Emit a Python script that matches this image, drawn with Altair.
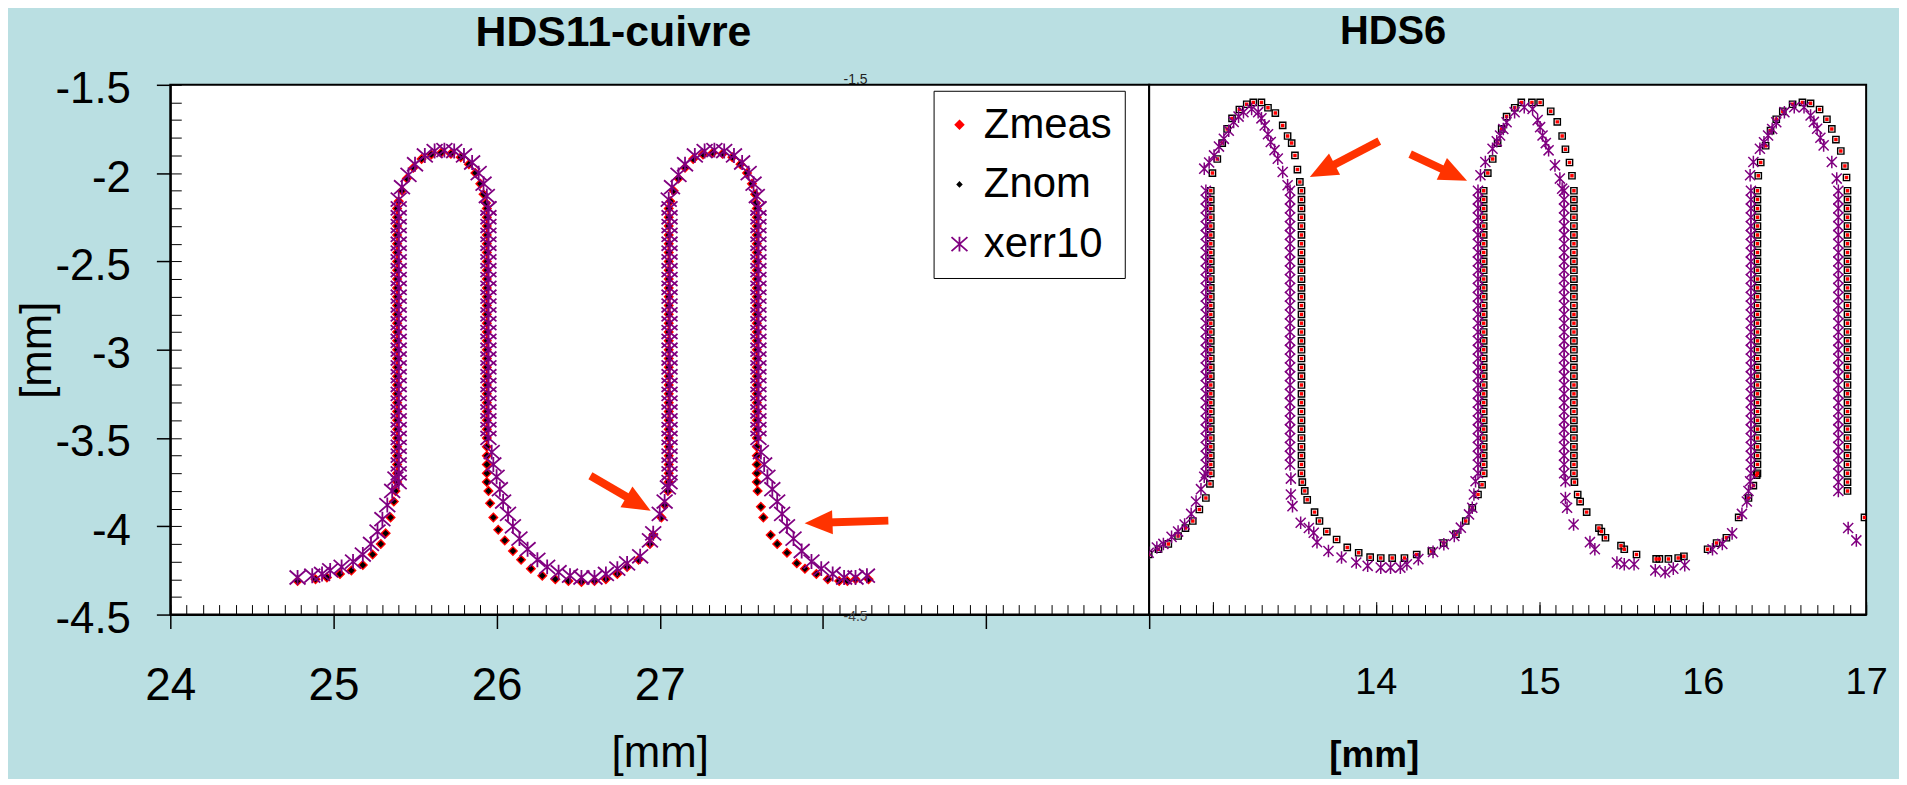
import altair as alt
import pandas as pd

FONT = "Liberation Sans"
BG = "#BADFE2"
ARROW_COLOR = "#FF3300"
SERIES = ["Zmeas", "Znom", "xerr10"]
SERIES_COLORS = ["#FF0000", "#000000", "#800080"]
# marker outlines (symbol size 100 -> 1 path unit = 5 px)
SHAPE_ZMEAS = "M0,-0.8L0.8,0L0,0.8L-0.8,0Z"
SHAPE_ZNOM = "M0,-0.4L0.4,0L0,0.4L-0.4,0Z"
SHAPE_XERR = "M-1.6,-1.4L1.6,1.4M-1.6,1.4L1.6,-1.4M0,-1.5L0,1.5"
ASTERISK = "M-0.8,-0.8L0.8,0.8M-0.8,0.8L0.8,-0.8M0,-1L0,1"
ARROW_HEAD = "M0,0L-1,-0.43L-1,0.43Z"

# ---------------- axis ticks / labels ----------------
LEFT_X_TICKS = [24, 25, 26, 27, 28, 29, 30]
Y_TICKS = [-4.5, -4.0, -3.5, -3.0, -2.5, -2.0, -1.5]
RIGHT_X_TICKS = [13, 14, 15, 16, 17]
RIGHT_X_LABELS = [14, 15, 16, 17]
LEFT_X_MINOR = [round(24 + 0.1 * i, 2) for i in range(61)]
Y_MINOR = [round(-4.5 + 0.1 * i, 2) for i in range(31)]
RIGHT_X_MINOR = [round(12.7 + 0.1 * i, 2) for i in range(44)]
# small leftover labels of the hidden HDS6 y axis
GHOST_X = [28.2]
GHOST_TOP_Y = [-1.5]
GHOST_TOP_TEXT = ["-1.5"]
GHOST_BOTTOM_Y = [-4.5]
GHOST_BOTTOM_TEXT = ["-4.5"]

# ---------------- vertical runs of points (y, mm) ----------------
L_RUN = [-3.75, -3.70, -3.65, -3.60, -3.55, -3.50, -3.45, -3.40, -3.35, -3.30, -3.25, -3.20,
         -3.15, -3.10, -3.05, -3.00, -2.95, -2.90, -2.85, -2.80, -2.75, -2.70, -2.65, -2.60,
         -2.55, -2.50, -2.45, -2.40, -2.35, -2.30, -2.25, -2.20]
L_RUN_SHORT = [-3.50, -3.45, -3.40, -3.35, -3.30, -3.25, -3.20, -3.15, -3.10, -3.05, -3.00,
               -2.95, -2.90, -2.85, -2.80, -2.75, -2.70, -2.65, -2.60, -2.55, -2.50, -2.45,
               -2.40, -2.35, -2.30, -2.25, -2.20]
R_RUN = [-3.70, -3.65, -3.60, -3.55, -3.50, -3.45, -3.40, -3.35, -3.30, -3.25, -3.20, -3.15,
         -3.10, -3.05, -3.00, -2.95, -2.90, -2.85, -2.80, -2.75, -2.70, -2.65, -2.60, -2.55,
         -2.50, -2.45, -2.40, -2.35, -2.30, -2.25, -2.20, -2.15, -2.10]
R_RUN_LONG = R_RUN + [-3.75, -3.80]

# ---------------- HDS11-cuivre : Zmeas (Znom lies on the same points) ----------------
L_SIDE_X = [25.39, 25.94, 27.055, 27.595]
L_TAIL1_X = [24.78, 24.89, 24.96, 25.04, 25.11, 25.18, 25.24, 25.29, 25.32, 25.35, 25.37, 25.38]
L_TAIL1_Y = [-4.31, -4.30, -4.29, -4.27, -4.25, -4.22, -4.16, -4.10, -4.04, -3.95, -3.86, -3.80]
L_ARC1_X = [25.40, 25.42, 25.45, 25.49, 25.54, 25.60, 25.66, 25.72, 25.78, 25.83, 25.87, 25.90, 25.92, 25.935]
L_ARC_Y = [-2.16, -2.10, -2.03, -1.97, -1.92, -1.895, -1.885, -1.89, -1.91, -1.95, -2.00, -2.06, -2.12, -2.17]
L_VALLEY_X = [25.95, 25.96, 25.98, 26.01, 26.05, 26.10, 26.15, 26.21, 26.28, 26.36, 26.44, 26.52,
              26.60, 26.67, 26.74, 26.80, 26.87, 26.94, 26.96, 27.01, 27.03, 27.05]
L_VALLEY_Y = [-3.80, -3.87, -3.95, -4.02, -4.08, -4.14, -4.19, -4.24, -4.28, -4.30, -4.31, -4.315,
              -4.31, -4.30, -4.27, -4.23, -4.19, -4.10, -4.05, -3.95, -3.88, -3.80]
L_ARC2_X = [27.065, 27.085, 27.115, 27.155, 27.205, 27.265, 27.325, 27.385, 27.445, 27.495, 27.535, 27.565, 27.585, 27.59]
L_TAIL2_X = [27.60, 27.62, 27.635, 27.68, 27.72, 27.78, 27.84, 27.89, 27.96, 28.03, 28.10, 28.15, 28.20, 28.28]
L_TAIL2_Y = [-3.80, -3.89, -3.95, -4.05, -4.10, -4.15, -4.21, -4.24, -4.27, -4.30, -4.31, -4.31, -4.30, -4.30]

# ---------------- HDS11-cuivre : xerr10 ----------------
LE_SIDE_X = [25.40, 25.95, 27.06, 27.605]
LE_TAIL1_X = [24.78, 24.87, 24.93, 24.98, 25.05, 25.12, 25.18, 25.23, 25.27, 25.30, 25.33, 25.36, 25.38]
LE_TAIL1_Y = [-4.29, -4.28, -4.27, -4.25, -4.23, -4.20, -4.16, -4.10, -4.03, -3.96, -3.88, -3.80, -3.73]
LE_ARC1_X = [25.40, 25.42, 25.46, 25.50, 25.56, 25.62, 25.68, 25.74, 25.80, 25.85, 25.89, 25.92, 25.94, 25.95]
LE_ARC_Y = [-2.15, -2.08, -2.01, -1.95, -1.90, -1.875, -1.87, -1.875, -1.90, -1.94, -2.00, -2.06, -2.13, -2.20]
LE_VALLEY_X = [25.97, 25.98, 26.00, 26.02, 26.04, 26.07, 26.10, 26.14, 26.19, 26.25, 26.31, 26.38,
               26.45, 26.52, 26.60, 26.67, 26.74, 26.80, 26.88, 26.94, 26.96, 27.00, 27.03, 27.05]
LE_VALLEY_Y = [-3.58, -3.65, -3.72, -3.79, -3.86, -3.93, -4.00, -4.07, -4.13, -4.19, -4.23, -4.26,
               -4.28, -4.29, -4.29, -4.27, -4.24, -4.21, -4.17, -4.08, -4.04, -3.93, -3.86, -3.78]
LE_ARC2_X = [27.055, 27.075, 27.115, 27.155, 27.215, 27.275, 27.335, 27.395, 27.455, 27.505, 27.545, 27.575, 27.595, 27.605]
LE_TAIL2_X = [27.62, 27.64, 27.66, 27.69, 27.72, 27.75, 27.78, 27.82, 27.87, 27.93, 27.99, 28.06, 28.13, 28.20, 28.27]
LE_TAIL2_Y = [-3.58, -3.65, -3.72, -3.79, -3.86, -3.93, -4.00, -4.07, -4.14, -4.20, -4.24, -4.27, -4.29, -4.29, -4.28]

# ---------------- HDS6 : Zmeas (Znom lies on the same points) ----------------
R_SIDE_X = [12.99, 13.545, 14.66, 15.212, 16.335, 16.886]
R_START_X = [12.61, 12.67, 12.73, 12.79, 12.835, 12.88, 12.92, 12.96, 12.985]
R_START_Y = [-4.16, -4.13, -4.10, -4.055, -4.01, -3.97, -3.905, -3.84, -3.76]
R_ARC_A_X = [13.00, 13.03, 13.06, 13.09, 13.12, 13.165, 13.21, 13.25, 13.30, 13.34, 13.385, 13.43, 13.46, 13.485, 13.505, 13.52, 13.535]
R_ARC_A_Y = [-2.00, -1.92, -1.83, -1.75, -1.69, -1.64, -1.61, -1.60, -1.60, -1.63, -1.66, -1.73, -1.79, -1.83, -1.90, -1.98, -2.05]
R_VAL_AB_X = [13.55, 13.565, 13.58, 13.625, 13.655, 13.70, 13.76, 13.825, 13.895, 13.965, 14.03,
              14.10, 14.175, 14.25, 14.34, 14.415, 14.49, 14.55, 14.59, 14.625, 14.65]
R_VAL_AB_Y = [-3.75, -3.80, -3.85, -3.92, -3.97, -4.03, -4.075, -4.12, -4.15, -4.175, -4.18,
              -4.18, -4.18, -4.16, -4.14, -4.095, -4.045, -3.97, -3.895, -3.82, -3.765]
R_ARC_B_X = [14.685, 14.715, 14.745, 14.77, 14.80, 14.85, 14.89, 14.955, 15.005, 15.07, 15.11, 15.14, 15.16, 15.185, 15.20]
R_ARC_B_Y = [-2.00, -1.92, -1.83, -1.75, -1.68, -1.63, -1.60, -1.60, -1.60, -1.65, -1.71, -1.79, -1.865, -1.94, -2.015]
R_VAL_BC_X = [15.215, 15.235, 15.25, 15.29, 15.365, 15.38, 15.405, 15.50, 15.52, 15.595, 15.715,
              15.735, 15.79, 15.85, 15.885, 16.03, 16.085, 16.145, 16.22, 16.28, 16.31, 16.33]
R_VAL_BC_Y = [-3.75, -3.82, -3.86, -3.92, -4.01, -4.03, -4.065, -4.11, -4.13, -4.16, -4.185,
              -4.185, -4.185, -4.18, -4.17, -4.13, -4.095, -4.065, -3.95, -3.84, -3.77, -3.71]
R_ARC_C_X = [16.34, 16.355, 16.385, 16.415, 16.45, 16.49, 16.55, 16.61, 16.66, 16.715, 16.76, 16.79, 16.815, 16.845, 16.87, 16.88]
R_ARC_C_Y = [-2.015, -1.94, -1.845, -1.76, -1.695, -1.65, -1.61, -1.60, -1.605, -1.64, -1.695, -1.75, -1.81, -1.875, -1.96, -2.025]
R_END_X = [16.99]
R_END_Y = [-3.95]

# ---------------- HDS6 : xerr10 ----------------
RE_SIDE_X = [12.96, 13.475, 14.625, 15.152, 16.295, 16.83]
RE_START_X = [12.61, 12.66, 12.70, 12.75, 12.79, 12.83, 12.87, 12.90, 12.93, 12.95]
RE_START_Y = [-4.15, -4.12, -4.10, -4.06, -4.03, -3.99, -3.93, -3.86, -3.79, -3.72]
RE_ARC_A_X = [12.95, 12.98, 13.01, 13.04, 13.07, 13.10, 13.13, 13.16, 13.19, 13.24, 13.28, 13.30,
              13.32, 13.34, 13.357, 13.38, 13.40, 13.43, 13.46]
RE_ARC_A_Y = [-1.975, -1.94, -1.90, -1.85, -1.806, -1.76, -1.71, -1.68, -1.655, -1.637, -1.655, -1.69,
              -1.73, -1.78, -1.824, -1.87, -1.918, -1.994, -2.069]
RE_VAL_AB_X = [13.48, 13.48, 13.49, 13.54, 13.59, 13.62, 13.64, 13.71, 13.79, 13.88, 13.95, 14.03,
               14.09, 14.15, 14.19, 14.26, 14.35, 14.416, 14.48, 14.52, 14.57, 14.59, 14.60, 14.61]
RE_VAL_AB_Y = [-3.73, -3.82, -3.886, -3.98, -4.01, -4.037, -4.09, -4.14, -4.177, -4.205, -4.224, -4.234,
               -4.234, -4.234, -4.215, -4.186, -4.145, -4.102, -4.055, -4.008, -3.933, -3.895, -3.82, -3.745]
RE_ARC_B_X = [14.64, 14.67, 14.714, 14.74, 14.76, 14.78, 14.80, 14.849, 14.908, 14.959, 14.99, 15.005,
              15.02, 15.04, 15.057, 15.096, 15.126, 15.14]
RE_ARC_B_Y = [-2.012, -1.937, -1.862, -1.82, -1.787, -1.75, -1.712, -1.655, -1.627, -1.637, -1.70, -1.74,
              -1.787, -1.83, -1.871, -1.956, -2.031, -2.088]
RE_VAL_BC_X = [15.16, 15.16, 15.17, 15.21, 15.31, 15.34, 15.475, 15.52, 15.58, 15.71, 15.77, 15.82,
               15.89, 16.06, 16.12, 16.18, 16.24, 16.27, 16.28, 16.29]
RE_VAL_BC_Y = [-3.745, -3.84, -3.895, -3.99, -4.09, -4.13, -4.205, -4.215, -4.215, -4.25, -4.26, -4.24,
               -4.22, -4.13, -4.10, -4.04, -3.93, -3.86, -3.80, -3.745]
RE_ARC_C_X = [16.29, 16.31, 16.35, 16.375, 16.40, 16.425, 16.45, 16.50, 16.56, 16.62, 16.66, 16.68,
              16.70, 16.72, 16.74, 16.79, 16.82]
RE_ARC_C_Y = [-2.012, -1.937, -1.862, -1.825, -1.787, -1.75, -1.712, -1.655, -1.627, -1.627, -1.674, -1.71,
              -1.749, -1.80, -1.843, -1.937, -2.031]
RE_END_X = [16.89, 16.94]
RE_END_Y = [-4.01, -4.08]

# ---------------- arrows (tail, neck, tip in mm; direction angle in degrees) ----------------
ARROW_L_X = [26.575, 28.401]
ARROW_L_Y = [-3.714, -3.968]
ARROW_L_NX = [26.828, 28.023]
ARROW_L_NY = [-3.850, -3.979]
ARROW_L_TX = [26.944, 27.888]
ARROW_L_TY = [-3.912, -3.983]
ARROW_L_ANGLE = [30, 178]
ARROW_R_X = [14.021, 14.21]
ARROW_R_Y = [-1.819, -1.892]
ARROW_R_NX = [13.718, 14.437]
ARROW_R_NY = [-1.965, -1.991]
ARROW_R_TX = [13.596, 14.558]
ARROW_R_TY = [-2.022, -2.044]
ARROW_R_ANGLE = [152.5, 25.3]


# ---------------- tables ----------------
def path(pieces):
    xs, ys = [], []
    for px, py in pieces:
        if not isinstance(px, list):
            px = [px] * len(py)
        xs += px
        ys += py
    return xs, ys


lm_x, lm_y = path([(L_TAIL1_X, L_TAIL1_Y), (L_SIDE_X[0], L_RUN), (L_ARC1_X, L_ARC_Y),
                   (L_SIDE_X[1], L_RUN), (L_VALLEY_X, L_VALLEY_Y), (L_SIDE_X[2], L_RUN),
                   (L_ARC2_X, L_ARC_Y), (L_SIDE_X[3], L_RUN), (L_TAIL2_X, L_TAIL2_Y)])
le_x, le_y = path([(LE_TAIL1_X, LE_TAIL1_Y), (LE_SIDE_X[0], L_RUN), (LE_ARC1_X, LE_ARC_Y),
                   (LE_SIDE_X[1], L_RUN_SHORT), (LE_VALLEY_X, LE_VALLEY_Y), (LE_SIDE_X[2], L_RUN),
                   (LE_ARC2_X, LE_ARC_Y), (LE_SIDE_X[3], L_RUN_SHORT), (LE_TAIL2_X, LE_TAIL2_Y)])
rm_x, rm_y = path([(R_START_X, R_START_Y), (R_SIDE_X[0], R_RUN), (R_ARC_A_X, R_ARC_A_Y),
                   (R_SIDE_X[1], R_RUN), (R_VAL_AB_X, R_VAL_AB_Y), (R_SIDE_X[2], R_RUN),
                   (R_ARC_B_X, R_ARC_B_Y), (R_SIDE_X[3], R_RUN), (R_VAL_BC_X, R_VAL_BC_Y),
                   (R_SIDE_X[4], R_RUN), (R_ARC_C_X, R_ARC_C_Y), (R_SIDE_X[5], R_RUN_LONG),
                   (R_END_X, R_END_Y)])
re_x, re_y = path([(RE_START_X, RE_START_Y), (RE_SIDE_X[0], R_RUN), (RE_ARC_A_X, RE_ARC_A_Y),
                   (RE_SIDE_X[1], R_RUN[1:]), (RE_VAL_AB_X, RE_VAL_AB_Y), (RE_SIDE_X[2], R_RUN),
                   (RE_ARC_B_X, RE_ARC_B_Y), (RE_SIDE_X[3], R_RUN), (RE_VAL_BC_X, RE_VAL_BC_Y),
                   (RE_SIDE_X[4], R_RUN), (RE_ARC_C_X, RE_ARC_C_Y), (RE_SIDE_X[5], R_RUN_LONG),
                   (RE_END_X, RE_END_Y)])

left_df = pd.DataFrame({
    "x": lm_x + lm_x + le_x,
    "y": lm_y + lm_y + le_y,
    "series": ["Zmeas"] * len(lm_x) + ["Znom"] * len(lm_x) + ["xerr10"] * len(le_x),
})
right_meas = pd.DataFrame({"x": rm_x, "y": rm_y})
right_err = pd.DataFrame({"x": re_x, "y": re_y})
arrows_left = pd.DataFrame({"x": ARROW_L_X, "y": ARROW_L_Y, "nx": ARROW_L_NX, "ny": ARROW_L_NY,
                            "tx": ARROW_L_TX, "ty": ARROW_L_TY, "angle": ARROW_L_ANGLE})
arrows_right = pd.DataFrame({"x": ARROW_R_X, "y": ARROW_R_Y, "nx": ARROW_R_NX, "ny": ARROW_R_NY,
                             "tx": ARROW_R_TX, "ty": ARROW_R_TY, "angle": ARROW_R_ANGLE})
ghost_top = pd.DataFrame({"x": GHOST_X, "y": GHOST_TOP_Y, "t": GHOST_TOP_TEXT})
ghost_bottom = pd.DataFrame({"x": GHOST_X, "y": GHOST_BOTTOM_Y, "t": GHOST_BOTTOM_TEXT})

# ---------------- scales ----------------
xl = alt.Scale(domain=[24, 30], nice=False, zero=False)
yl = alt.Scale(domain=[-4.5, -1.5], nice=False, zero=False)
xr = alt.Scale(domain=[12.613, 17.0], nice=False, zero=False)
yr = alt.Scale(domain=[-4.5, -1.5], nice=False, zero=False)

W_LEFT, W_RIGHT, H = 983, 720, 532


def minor_axis(orient, values, size):
    return alt.Axis(orient=orient, values=values, offset=-size, tickSize=size, tickWidth=1,
                    tickColor="black", labels=False, domain=False, grid=False, title=None)


def title_axis(text, tx, size):
    return alt.Axis(orient="top", values=[], ticks=False, labels=False, domain=False, grid=False,
                    title=text, titleFont=FONT, titleFontSize=size, titleFontWeight="bold",
                    titleColor="black", titleX=tx, titleY=-73, titleBaseline="top",
                    titleAlign="center", titleAngle=0)


# ---------------- left panel (HDS11-cuivre) ----------------
legend = alt.Legend(title=None, orient="none", legendX=766.5, legendY=6, direction="vertical",
                    fillColor="white", strokeColor="black", padding=13, rowPadding=18,
                    labelFont=FONT, labelFontSize=42, labelColor="black", labelOffset=3.5,
                    symbolOffset=-8, symbolSize=100, symbolStrokeWidth=1.8, symbolOpacity=1)

left_x_axis = alt.Axis(orient="bottom", values=LEFT_X_TICKS, tickSize=14, tickWidth=1.5,
                       tickColor="black", domainColor="black", domainWidth=2,
                       labelFont=FONT, labelFontSize=46, labelColor="black", labelPadding=35,
                       labelFlush=False, labelOverlap=False,
                       labelExpr="datum.value <= 27 ? toString(datum.value) : ''",
                       grid=False, titleFont=FONT, titleFontSize=44, titleFontWeight="normal",
                       titleColor="black", titleX=491.5, titleY=153, titleBaseline="alphabetic",
                       titleAlign="center")
left_y_axis = alt.Axis(orient="left", values=Y_TICKS, tickSize=14, tickWidth=1.5, tickColor="black",
                       domainColor="black", domainWidth=2, labelFont=FONT, labelFontSize=44,
                       labelColor="black", labelPadding=26, labelOffset=5,
                       labelExpr="toString(datum.value)",
                       labelFlush=False, labelOverlap=False, grid=False,
                       titleFont=FONT, titleFontSize=44, titleFontWeight="normal", titleColor="black",
                       titleX=-133.5, titleY=H / 2, titleAngle=270, titleBaseline="middle",
                       titleAlign="center")

left_minor = alt.Chart(left_df).mark_point(opacity=0).encode(
    x=alt.X("x:Q", scale=xl, axis=minor_axis("bottom", LEFT_X_MINOR, 10)),
    y=alt.Y("y:Q", scale=yl, axis=minor_axis("left", Y_MINOR, 11)),
)
left_title = alt.Chart(arrows_left).mark_point(opacity=0).encode(
    x=alt.X("x:Q", scale=xl, axis=title_axis("HDS11-cuivre", 444.5, 43)),
    y=alt.Y("y:Q", scale=yl, axis=None),
)
left_points = alt.Chart(left_df).mark_point(filled=True, opacity=1, size=100, strokeWidth=1.8).encode(
    x=alt.X("x:Q", scale=xl, axis=left_x_axis, title="[mm]"),
    y=alt.Y("y:Q", scale=yl, axis=left_y_axis, title="[mm]"),
    color=alt.Color("series:N", scale=alt.Scale(domain=SERIES, range=SERIES_COLORS), legend=legend),
    stroke=alt.Stroke("series:N", scale=alt.Scale(domain=SERIES, range=SERIES_COLORS), legend=legend),
    shape=alt.Shape("series:N", scale=alt.Scale(domain=SERIES, range=[SHAPE_ZMEAS, SHAPE_ZNOM, SHAPE_XERR]),
                    legend=legend),
)
left_shafts = alt.Chart(arrows_left).mark_rule(color=ARROW_COLOR, strokeWidth=8).encode(
    x=alt.X("x:Q", scale=xl, axis=None), y=alt.Y("y:Q", scale=yl, axis=None),
    x2="nx:Q", y2="ny:Q",
)
left_heads = alt.Chart(arrows_left).mark_point(shape=ARROW_HEAD, filled=True, color=ARROW_COLOR,
                                               opacity=1, size=3136).encode(
    x=alt.X("tx:Q", scale=xl, axis=None), y=alt.Y("ty:Q", scale=yl, axis=None),
    angle=alt.Angle("angle:Q", scale=None),
)
left_ghost_top = alt.Chart(ghost_top).mark_text(font=FONT, fontSize=14, color="#222222",
                                                baseline="bottom", dy=2).encode(
    x=alt.X("x:Q", scale=xl, axis=None), y=alt.Y("y:Q", scale=yl, axis=None), text="t:N",
)
left_ghost_bottom = alt.Chart(ghost_bottom).mark_text(font=FONT, fontSize=14, color="#444444",
                                                      baseline="middle", dy=2).encode(
    x=alt.X("x:Q", scale=xl, axis=None), y=alt.Y("y:Q", scale=yl, axis=None), text="t:N",
)
left = alt.layer(left_minor, left_title, left_ghost_top, left_ghost_bottom, left_points,
                 left_shafts, left_heads).resolve_axis(
    x="independent", y="independent"
).properties(width=W_LEFT, height=H)

# ---------------- right panel (HDS6) ----------------
right_label_axis = alt.Axis(orient="bottom", values=RIGHT_X_LABELS, tickSize=0, domainColor="black",
                            domainWidth=2, labelFont=FONT, labelFontSize=38, labelColor="black",
                            labelPadding=49, labelFlush=False, labelOverlap=False,
                            labelExpr="toString(datum.value)", grid=False,
                            titleFont=FONT, titleFontSize=37, titleFontWeight="bold", titleColor="black",
                            titleX=225.5, titleY=152.5, titleBaseline="alphabetic", titleAlign="center")

right_major = alt.Chart(right_meas).mark_point(opacity=0).encode(
    x=alt.X("x:Q", scale=xr, axis=minor_axis("bottom", RIGHT_X_TICKS, 13)),
    y=alt.Y("y:Q", scale=yr, axis=None),
)
right_minor = alt.Chart(right_meas).mark_point(opacity=0).encode(
    x=alt.X("x:Q", scale=xr, axis=minor_axis("bottom", RIGHT_X_MINOR, 10)),
    y=alt.Y("y:Q", scale=yr, axis=None),
)
right_title = alt.Chart(arrows_right).mark_point(opacity=0).encode(
    x=alt.X("x:Q", scale=xr, axis=title_axis("HDS6", 244.5, 40)),
    y=alt.Y("y:Q", scale=yr, axis=None),
)
right_nom = alt.Chart(right_meas).mark_point(shape="square", filled=False, stroke="black", strokeWidth=1.4,
                                             size=40, opacity=1, clip=True).encode(
    x=alt.X("x:Q", scale=xr, axis=right_label_axis, title="[mm]"),
    y=alt.Y("y:Q", scale=yr, axis=None),
)
right_meas_pts = alt.Chart(right_meas).mark_point(shape="square", filled=True, color="#FF0000",
                                                  size=12, opacity=1, clip=True).encode(
    x=alt.X("x:Q", scale=xr, axis=None), y=alt.Y("y:Q", scale=yr, axis=None),
)
right_err_pts = alt.Chart(right_err).mark_point(shape=ASTERISK, filled=False, color="#800080",
                                                strokeWidth=1.5, size=160, opacity=1, clip=True).encode(
    x=alt.X("x:Q", scale=xr, axis=None), y=alt.Y("y:Q", scale=yr, axis=None),
)
right_shafts = alt.Chart(arrows_right).mark_rule(color=ARROW_COLOR, strokeWidth=8).encode(
    x=alt.X("x:Q", scale=xr, axis=None), y=alt.Y("y:Q", scale=yr, axis=None),
    x2="nx:Q", y2="ny:Q",
)
right_heads = alt.Chart(arrows_right).mark_point(shape=ARROW_HEAD, filled=True, color=ARROW_COLOR,
                                                 opacity=1, size=3136).encode(
    x=alt.X("tx:Q", scale=xr, axis=None), y=alt.Y("ty:Q", scale=yr, axis=None),
    angle=alt.Angle("angle:Q", scale=None),
)
right = alt.layer(right_major, right_minor, right_title, right_nom, right_meas_pts, right_err_pts,
                  right_shafts, right_heads).resolve_axis(x="independent", y="independent").properties(
    width=W_RIGHT, height=H,
)

chart = alt.hconcat(left, right, spacing=0, bounds="flush").resolve_scale(
    color="independent", stroke="independent", shape="independent"
).properties(
    background=BG,
    padding={"left": 6, "top": 1.5, "right": 10, "bottom": 0},
).configure_view(
    fill="white", stroke="black", strokeWidth=2
).configure_axis(grid=False)

chart.save("out.html", embed_options={"renderer": "svg", "actions": False})
